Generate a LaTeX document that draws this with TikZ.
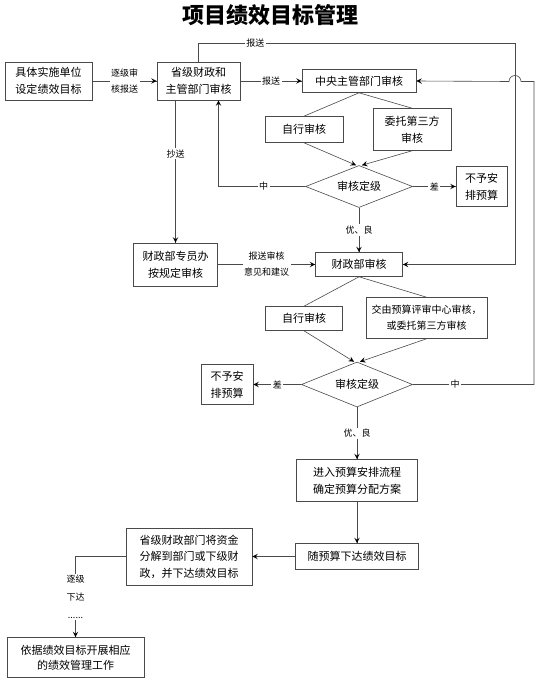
\documentclass[tikz,border=0pt]{standalone}
\usepackage{fontspec}
\setmainfont{Noto Sans CJK SC}
\usepackage{tikz}
\usetikzlibrary{shapes,arrows}
\usetikzlibrary{arrows,decorations.markings}
\definecolor{lineColor}{HTML}{4A4A4A}
\tikzstyle{box}=[rectangle, draw=lineColor, line width=0.6pt, fill=white, text centered, align=center, inner sep=2pt, font=\fontsize{11}{17}\selectfont]
\tikzstyle{decision} = [diamond, draw=lineColor, line width=0.6pt, fill=white, aspect=2.5, inner sep=1pt, font=\fontsize{11}{17}\selectfont]
\tikzstyle{lbl}=[fill=white, inner sep=1.5pt, align=center, font=\fontsize{9}{16}\selectfont]
\tikzstyle{wire}=[draw=lineColor, line width=0.6pt]
\tikzstyle{arrow} = [draw=lineColor, line width=0.6pt, decoration={markings,mark=at position 1 with
	{\arrow[scale=1.5,>=stealth,black]{>}}},postaction={decorate}]

\begin{document}
\begin{tikzpicture} [node distance=56pt, x=1pt, y=1pt]
			\useasboundingbox (0,0) rectangle (539,-682);
			\node (title) [font=\fontsize{22}{26}\selectfont\bfseries] at (270,-15) {项目绩效目标管理};
			
			\node (unitTargets) [box, minimum width=87pt, minimum height=38pt] at (48.5,-81) {具体实施单位\\设定绩效目标};
			\node (provinceReview) [box, right of=unitTargets, xshift=94pt, minimum width=83pt, minimum height=38pt] {省级财政和\\主管部门审核};
			\node (centralReview) [box, right of=provinceReview, xshift=104.5pt, minimum width=114pt, minimum height=23pt] {中央主管部门审核};
			
			\node (selfCheck) [box, below of=centralReview, xshift=-55pt, yshift=7.5pt, minimum width=78pt, minimum height=26pt] {自行审核};
			\node (thirdParty) [box, below of=centralReview, xshift=53pt, yshift=7.5pt, minimum width=78pt, minimum height=42pt] {委托第三方\\审核};
			\node (grading) [decision, below of=centralReview, yshift=-49.5pt, minimum width=107pt, minimum height=42pt] {审核定级};
			\node (noBudget) [box, right of=grading, xshift=66.5pt, minimum width=51pt, minimum height=40pt] {不予安\\排预算};
			
			\node (ministryReview) [box, below of=grading, yshift=-22pt, minimum width=87pt, minimum height=24pt] {财政部审核};
			\node (commissioner) [box, left of=ministryReview, xshift=-127.5pt, minimum width=84pt, minimum height=43pt] {财政部专员办\\按规定审核};
			
			\node (selfCheckB) [box, below of=ministryReview, xshift=-55pt, yshift=2pt, minimum width=77pt, minimum height=24pt] {自行审核};
			\node (reviewCenter) [box, below of=ministryReview, xshift=67.5pt, yshift=2.5pt, minimum width=121pt, minimum height=41pt, font=\fontsize{10}{16}\selectfont] {交由预算评审中心审核，\\或委托第三方审核};
			\node (gradingB) [decision, below of=ministryReview, xshift=-2pt, yshift=-64pt, minimum width=111pt, minimum height=45pt] {审核定级};
			\node (noBudgetB) [box, left of=gradingB, xshift=-74pt, minimum width=52pt, minimum height=40pt] {不予安\\排预算};
			
			\node (budgetFlow) [box, below of=gradingB, yshift=-40pt, minimum width=121pt, minimum height=42pt] {进入预算安排流程\\确定预算分配方案};
			\node (issueTargets) [box, below of=budgetFlow, yshift=-20pt, minimum width=123pt, minimum height=26pt] {随预算下达绩效目标};
			\node (splitFunds) [box, left of=issueTargets, xshift=-112pt, minimum width=126pt, minimum height=57pt, font=\fontsize{11}{16.5}\selectfont] {省级财政部门将资金\\分解到部门或下级财\\政，并下达绩效目标};
			\node (performanceWork) [box, below of=splitFunds, xshift=-113.5pt, yshift=-45pt, minimum width=137pt, minimum height=40pt, font=\fontsize{11}{15}\selectfont] {依据绩效目标开展相应\\的绩效管理工作};
			
			\coordinate (topRail) at (515,-43);
			\coordinate (rightRail) at (534,-81.5);
			
			\draw [arrow] (unitTargets) -- node [lbl] {逐级审\\核报送} (provinceReview);
			\draw [arrow] (provinceReview) -- node [lbl] {报送} (centralReview);
			\draw [arrow] (provinceReview.north) |- node [lbl, pos=0.59] {报送} (topRail) |- (ministryReview.east);
			\draw [wire] (centralReview.south) -- (selfCheck.north);
			\draw [wire] (centralReview.south) -- (thirdParty.north);
			\draw [arrow] (selfCheck.south) -- ([xshift=-3pt]grading.north);
			\draw [arrow] (thirdParty.south) -- ([xshift=3pt]grading.north);
			\draw [arrow] (grading.west) -| node [lbl, pos=0.24] {中} ([xshift=20pt]provinceReview.south);
			\draw [arrow] (grading) -- node [lbl] {差} (noBudget);
			\draw [arrow] (grading) -- node [lbl] {优、良} (ministryReview);
			\draw [arrow] (provinceReview.south -| commissioner.north) -- node [lbl, pos=0.375] {抄送} (commissioner.north);
			\draw [arrow] (commissioner) -- node [lbl] {报送审核\\意见和建议} (ministryReview);
			\draw [wire] (ministryReview.south) -- (selfCheckB.north);
			\draw [wire] (ministryReview.south) -- (reviewCenter.north);
			\draw [arrow] (selfCheckB.south) -- ([xshift=-3pt]gradingB.north);
			\draw [arrow] (reviewCenter.south) -- ([xshift=3pt]gradingB.north);
			\draw [arrow] (gradingB) -- node [lbl] {差} (noBudgetB);
			\draw [arrow] (gradingB.east) -- node [lbl, pos=0.35] {中} (gradingB.east -| rightRail) -- (rightRail) -- ([xshift=6pt]topRail |- rightRail) arc [start angle=0, end angle=180, radius=6pt] -- (centralReview.east);
			\draw [arrow] (gradingB) -- node [lbl] {优、良} (budgetFlow);
			\draw [arrow] (budgetFlow) -- (issueTargets);
			\draw [arrow] (issueTargets) -- (splitFunds);
			\draw [arrow] (splitFunds.west) -| node [lbl, pos=0.75, font=\fontsize{9}{18}\selectfont] {逐级\\下达\\......} (performanceWork.north);
			
\end{tikzpicture}
\end{document}
